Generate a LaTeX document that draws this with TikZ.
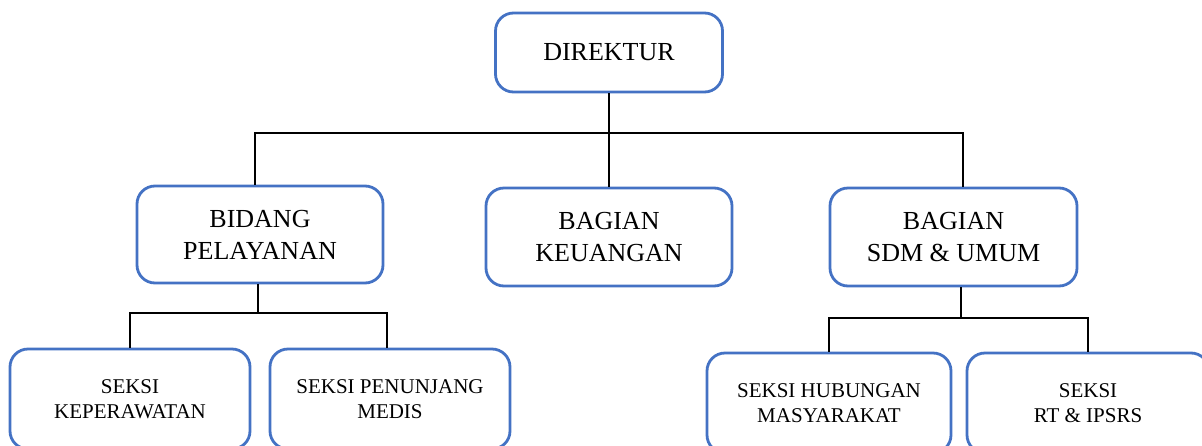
\documentclass[tikz,border=0pt]{standalone}
\usepackage{fontspec}
\setmainfont{Liberation Serif}
\definecolor{unitblue}{HTML}{4472C4}
\tikzset{
	unit/.style={draw=unitblue, line width=2.8pt, rounded corners=18pt, fill=white,
		align=center, inner sep=0pt, font=\fontsize{26}{32}\selectfont},
	seksi/.style={unit, minimum width=240pt, minimum height=100pt,
		font=\fontsize{21}{25}\selectfont},
	link/.style={black, line width=2.6pt},
}
\begin{document}
\begin{tikzpicture}[x=1pt, y=-1pt]
	\useasboundingbox[fill=white] (0,0) rectangle (1202,445);
	% top level
	\node[unit, minimum width=227pt, minimum height=79pt] (dir) at (609,52.5) {DIREKTUR};
	\node[unit, minimum width=246pt, minimum height=97pt] (bid) at (260,234.5) {BIDANG\\PELAYANAN};
	\node[unit, minimum width=246pt, minimum height=98pt] (keu) at (609,237) {BAGIAN\\KEUANGAN};
	\node[unit, minimum width=247pt, minimum height=98pt] (sdm) at (953.5,237) {BAGIAN\\SDM \& UMUM};
	% seksi
	\node[seksi] (kep) at (130,399) {SEKSI\\KEPERAWATAN};
	\node[seksi] (pen) at (390,399) {SEKSI PENUNJANG\\MEDIS};
	\node[seksi, minimum width=244pt] (hum) at (829,403) {SEKSI HUBUNGAN\\MASYARAKAT};
	\node[seksi, minimum width=242pt] (rt) at (1088,403) {SEKSI\\RT \& IPSRS};
	% lines
	\coordinate (bus) at (609,133);
	\coordinate (busl) at (258,313);
	\coordinate (busr) at (961,318);
	\draw[link] (dir.south) -- (keu.north);
	\draw[link] ([xshift=-5pt]bid.north) |- (bus) -| ([xshift=9.5pt]sdm.north);
	\draw[link] (bid.south -| busl) -- (busl);
	\draw[link] (kep.north) |- (busl) -| ([xshift=-3pt]pen.north);
	\draw[link] (sdm.south -| busr) -- (busr);
	\draw[link] (hum.north) |- (busr) -| (rt.north);
\end{tikzpicture}
\end{document}
